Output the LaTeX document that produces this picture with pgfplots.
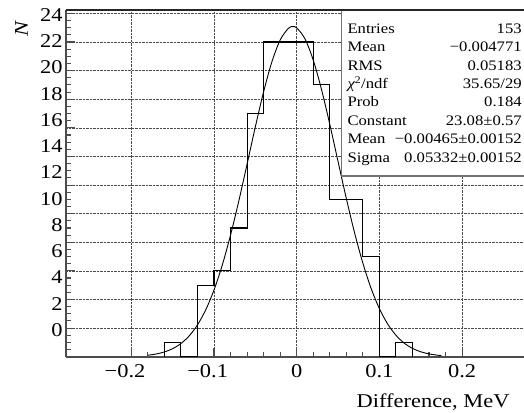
\documentclass[border=0pt]{standalone}
\usepackage{fontspec}
\setmainfont{Liberation Serif}[FakeStretch=1.15]
\usepackage{pgfplots}
\pgfplotsset{compat=1.18}

\begin{document}
\begin{tikzpicture}
\useasboundingbox (-66pt,-55.3pt) rectangle (458pt,356.7pt);
\begin{axis}[
  at={(0,0)}, anchor=south west,
  scale only axis, width=458pt, height=346.7pt,
  xmin=-0.279, xmax=0.2749, ymin=0, ymax=24.24,
  axis x line*=bottom, axis y line*=left,
  axis line style={line width=1.6pt, draw=black!70},
  tick align=inside,
  tick style={line width=1.1pt, draw=black!70},
  major tick length=9pt, minor tick length=5pt,
  xtick={-0.2,-0.1,0,0.1,0.2},
  xticklabels={\llap{−}0.2,\llap{−}0.1,0,0.1,0.2},
  minor x tick num=4,
  ytick={0,2,...,24},
  yticklabels={},
  minor y tick num=3,
  grid=major,
  grid style={densely dotted, line width=0.6pt, black!70},
  % the printed labels sit off the grid lines, as in the original
  extra y ticks={1.867,3.703,5.538,7.374,9.210,11.046,12.881,14.717,16.553,18.388,20.224,22.060,23.895},
  extra y tick labels={0,2,4,6,8,10,12,14,16,18,20,22,24},
  extra y tick style={grid=none, major tick length=0pt},
  ticklabel style={font=\fontsize{19.5}{23}\selectfont},
  xticklabel style={yshift=-4pt},
  xlabel={Difference, MeV},
  xlabel style={at={(axis description cs:0.976,-0.146)}, anchor=base east, font=\fontsize{19.5}{23}\selectfont},
  ylabel={\textit{N}},
  ylabel style={at={(axis description cs:-0.097,0.947)}, anchor=center, font=\fontsize{19.5}{23}\selectfont},
  clip=false,
]
% histogram, bin width 0.02
\addplot[const plot, black, line width=1.1pt] coordinates {
  (-0.16,0) (-0.16,1) (-0.14,0) (-0.12,5) (-0.10,6) (-0.08,9) (-0.06,17)
  (-0.04,22) (-0.02,22) (0.00,22) (0.02,19) (0.04,11) (0.06,11) (0.08,7)
  (0.10,0) (0.12,1) (0.14,0)
};
% gaussian fit
\addplot[smooth, black, line width=0.9pt] coordinates {
  (-0.18,0.104) (-0.17,0.188) (-0.16,0.331) (-0.15,0.562) (-0.14,0.920)
  (-0.13,1.455) (-0.12,2.223) (-0.11,3.277) (-0.10,4.664) (-0.09,6.409)
  (-0.08,8.503) (-0.07,10.891) (-0.06,13.466) (-0.05,16.075) (-0.04,18.527)
  (-0.03,20.613) (-0.02,22.143) (-0.01,22.964) (-0.00465,23.08) (0.00,22.992)
  (0.01,22.225) (0.02,20.741) (0.03,18.687) (0.04,16.254) (0.05,13.649)
  (0.06,11.066) (0.07,8.662) (0.08,6.546) (0.09,4.775) (0.10,3.363)
  (0.11,2.287) (0.12,1.501) (0.13,0.951) (0.14,0.582) (0.15,0.344)
  (0.16,0.196) (0.17,0.108) (0.175,0.080)
};
% stats box
\filldraw[fill=white, draw=black!55, line width=1.3pt] (axis cs:0.0544,12.64) rectangle (axis cs:0.31,24.24);
\draw[line width=1.4pt, black!85] (rel axis cs:0,1) -- (rel axis cs:1.1,1);
\begin{scope}[every node/.style={font=\fontsize{14.5}{18}\selectfont, inner sep=0pt}]
\node[anchor=base west] at (axis cs:0.0612,22.62) {Entries};
\node[anchor=base west] at (axis cs:0.0612,21.33) {Mean};
\node[anchor=base west] at (axis cs:0.0612,20.04) {RMS};
\node[anchor=base west] at (axis cs:0.0612,18.76) {{\itshape χ}\textsuperscript{2}/ndf};
\node[anchor=base west] at (axis cs:0.0612,17.47) {Prob};
\node[anchor=base west] at (axis cs:0.0612,16.18) {Constant};
\node[anchor=base west] at (axis cs:0.0612,14.90) {Mean};
\node[anchor=base west] at (axis cs:0.0612,13.61) {Sigma};
\node[anchor=base east] at (axis cs:0.2724,22.62) {153};
\node[anchor=base east] at (axis cs:0.2724,21.33) {−0.004771};
\node[anchor=base east] at (axis cs:0.2724,20.04) {0.05183};
\node[anchor=base east] at (axis cs:0.2724,18.76) {35.65/29};
\node[anchor=base east] at (axis cs:0.2724,17.47) {0.184};
\node[anchor=base east] at (axis cs:0.2724,16.18) {23.08±0.57};
\node[anchor=base east] at (axis cs:0.2724,14.90) {−0.00465±0.00152};
\node[anchor=base east] at (axis cs:0.2724,13.61) {0.05332±0.00152};
\end{scope}
\end{axis}
\end{tikzpicture}
\end{document}
